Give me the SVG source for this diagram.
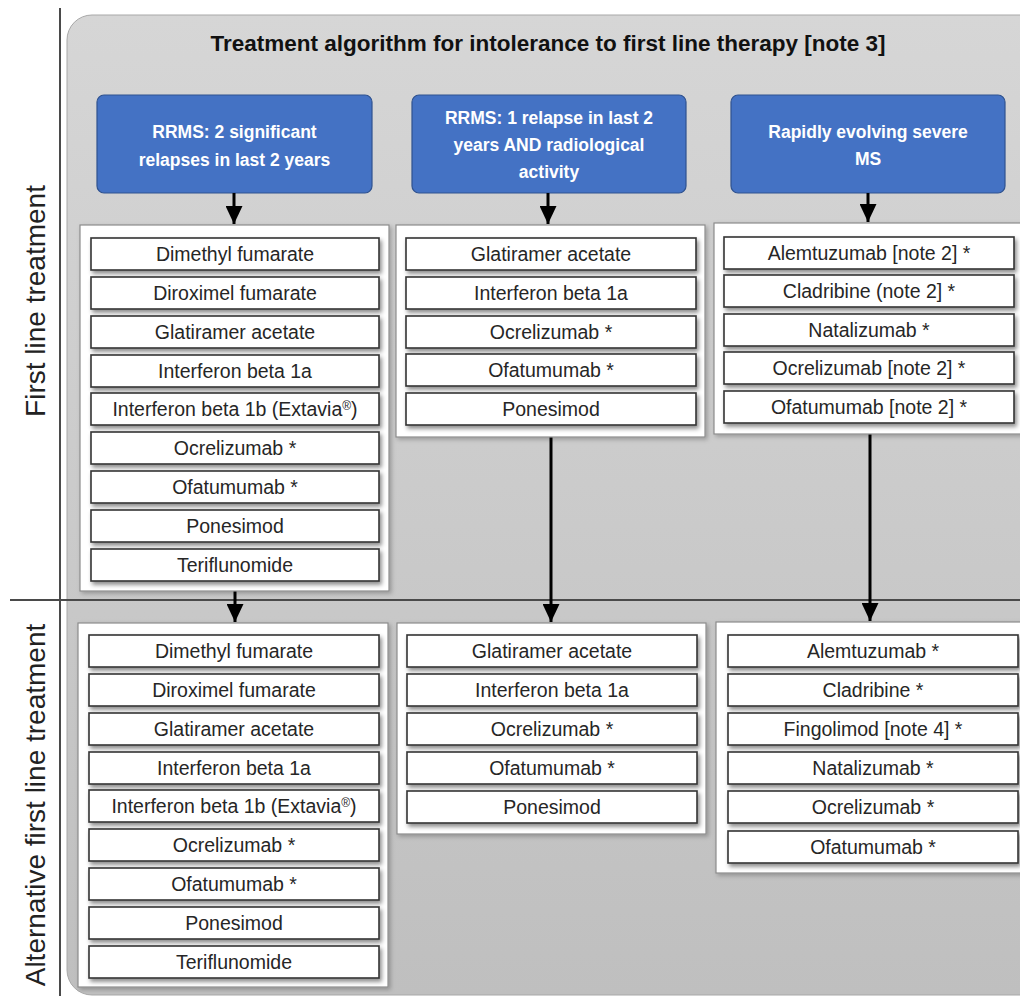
<svg xmlns="http://www.w3.org/2000/svg" width="1020" height="996" viewBox="0 0 1020 996">
<style>
.bg{fill:url(#g);stroke:#a8a8a8;stroke-width:1}
.hdr{fill:#4472c4;stroke:#2f528f;stroke-width:1.2}
.ht{font-family:"Liberation Sans",Arial,sans-serif;font-weight:bold;font-size:17.5px;fill:#ffffff;text-anchor:middle}
.title{font-family:"Liberation Sans",Arial,sans-serif;font-weight:bold;font-size:22.5px;fill:#111;text-anchor:middle}
.cont{fill:#ffffff;stroke:#8c8c8c;stroke-width:1.2}
.item{fill:#ffffff;stroke:#333;stroke-width:1.6}
.it{font-family:"Liberation Sans",Arial,sans-serif;font-size:19.5px;fill:#262626;text-anchor:middle}
.side{font-family:"Liberation Sans",Arial,sans-serif;font-size:28px;fill:#222;text-anchor:middle}
.ax{stroke:#4a4a4a;stroke-width:2;fill:none}
.conn{stroke:#000;stroke-width:3;fill:none;marker-end:url(#ah)}
</style>
<defs>
<linearGradient id="g" x1="0" y1="0" x2="0" y2="1">
<stop offset="0" stop-color="#d6d6d6"/>
<stop offset="1" stop-color="#bfbfbf"/>
</linearGradient>
<filter id="sh" x="-10%" y="-20%" width="130%" height="160%">
<feDropShadow dx="2" dy="3" stdDeviation="2" flood-color="#000" flood-opacity="0.45"/>
</filter>
<filter id="sh2" x="-10%" y="-10%" width="130%" height="130%">
<feDropShadow dx="2" dy="2" stdDeviation="2" flood-color="#000" flood-opacity="0.25"/>
</filter>
<marker id="ah" markerUnits="userSpaceOnUse" markerWidth="18" markerHeight="17" viewBox="0 0 18 17" refX="18" refY="8.5" orient="auto">
<path d="M0,0 L18,8.5 L0,17 z" fill="#000"/>
</marker>
</defs>

<rect class="bg" x="67" y="15" width="985" height="980" rx="25"/>
<line class="ax" x1="60" y1="8" x2="60" y2="996"/>
<line class="ax" x1="10" y1="600" x2="1020" y2="600"/>

<text class="title" x="548" y="51">Treatment algorithm for intolerance to first line therapy [note 3]</text>
<text class="side" transform="translate(45,301) rotate(-90)">First line treatment</text>
<text class="side" transform="translate(45,805) rotate(-90)">Alternative first line treatment</text>

<g id="hdr1"><rect class="hdr" x="97" y="95" width="275" height="98" rx="7"/>
<text class="ht" x="234.5" y="138">RRMS: 2 significant</text>
<text class="ht" x="234.5" y="166">relapses in last 2 years</text></g>
<g id="hdr2"><rect class="hdr" x="412" y="95" width="274" height="98" rx="7"/>
<text class="ht" x="549" y="124">RRMS: 1 relapse in last 2</text>
<text class="ht" x="549" y="151">years AND radiological</text>
<text class="ht" x="549" y="178">activity</text></g>
<g id="hdr3"><rect class="hdr" x="731" y="95" width="274" height="98" rx="7"/>
<text class="ht" x="868" y="138">Rapidly evolving severe</text>
<text class="ht" x="868" y="165">MS</text></g>

<g id="connectors">
<line class="conn" x1="234" y1="193" x2="234" y2="224"/>
<line class="conn" x1="548" y1="193" x2="548" y2="224"/>
<line class="conn" x1="868" y1="193" x2="868" y2="222"/>
<line class="conn" x1="235" y1="591" x2="235" y2="622"/>
<line class="conn" x1="551" y1="437" x2="551" y2="622"/>
<line class="conn" x1="870" y1="434" x2="870" y2="621"/>
</g>

<g id="first-rrms2">
<rect class="cont" filter="url(#sh2)" x="80" y="225" width="309" height="366"/>
<rect class="item" filter="url(#sh)" x="91" y="238" width="288" height="32"/><text class="it" x="235" y="261">Dimethyl fumarate</text>
<rect class="item" filter="url(#sh)" x="91" y="277" width="288" height="32"/><text class="it" x="235" y="300">Diroximel fumarate</text>
<rect class="item" filter="url(#sh)" x="91" y="316" width="288" height="32"/><text class="it" x="235" y="339">Glatiramer acetate</text>
<rect class="item" filter="url(#sh)" x="91" y="355" width="288" height="32"/><text class="it" x="235" y="378">Interferon beta 1a</text>
<rect class="item" filter="url(#sh)" x="91" y="393" width="288" height="32"/><text class="it" x="235" y="416">Interferon beta 1b (Extavia<tspan font-size="12" dy="-6">®</tspan><tspan dy="6">)</tspan></text>
<rect class="item" filter="url(#sh)" x="91" y="432" width="288" height="32"/><text class="it" x="235" y="455">Ocrelizumab *</text>
<rect class="item" filter="url(#sh)" x="91" y="471" width="288" height="32"/><text class="it" x="235" y="494">Ofatumumab *</text>
<rect class="item" filter="url(#sh)" x="91" y="510" width="288" height="32"/><text class="it" x="235" y="533">Ponesimod</text>
<rect class="item" filter="url(#sh)" x="91" y="549" width="288" height="32"/><text class="it" x="235" y="572">Teriflunomide</text>
</g>

<g id="first-rrms1">
<rect class="cont" filter="url(#sh2)" x="396" y="225" width="309" height="212"/>
<rect class="item" filter="url(#sh)" x="406" y="238" width="290" height="32"/><text class="it" x="551" y="261">Glatiramer acetate</text>
<rect class="item" filter="url(#sh)" x="406" y="277" width="290" height="32"/><text class="it" x="551" y="300">Interferon beta 1a</text>
<rect class="item" filter="url(#sh)" x="406" y="316" width="290" height="32"/><text class="it" x="551" y="339">Ocrelizumab *</text>
<rect class="item" filter="url(#sh)" x="406" y="354" width="290" height="32"/><text class="it" x="551" y="377">Ofatumumab *</text>
<rect class="item" filter="url(#sh)" x="406" y="393" width="290" height="32"/><text class="it" x="551" y="416">Ponesimod</text>
</g>

<g id="first-res">
<rect class="cont" filter="url(#sh2)" x="714" y="223" width="312" height="211"/>
<rect class="item" filter="url(#sh)" x="724" y="237" width="290" height="32"/><text class="it" x="869" y="260">Alemtuzumab [note 2] *</text>
<rect class="item" filter="url(#sh)" x="724" y="275" width="290" height="32"/><text class="it" x="869" y="298">Cladribine (note 2] *</text>
<rect class="item" filter="url(#sh)" x="724" y="314" width="290" height="32"/><text class="it" x="869" y="337">Natalizumab *</text>
<rect class="item" filter="url(#sh)" x="724" y="352" width="290" height="32"/><text class="it" x="869" y="375">Ocrelizumab [note 2] *</text>
<rect class="item" filter="url(#sh)" x="724" y="391" width="290" height="32"/><text class="it" x="869" y="414">Ofatumumab [note 2] *</text>
</g>

<g id="alt-rrms2">
<rect class="cont" filter="url(#sh2)" x="78" y="623" width="310" height="364"/>
<rect class="item" filter="url(#sh)" x="89" y="635" width="290" height="32"/><text class="it" x="234" y="658">Dimethyl fumarate</text>
<rect class="item" filter="url(#sh)" x="89" y="674" width="290" height="32"/><text class="it" x="234" y="697">Diroximel fumarate</text>
<rect class="item" filter="url(#sh)" x="89" y="713" width="290" height="32"/><text class="it" x="234" y="736">Glatiramer acetate</text>
<rect class="item" filter="url(#sh)" x="89" y="752" width="290" height="32"/><text class="it" x="234" y="775">Interferon beta 1a</text>
<rect class="item" filter="url(#sh)" x="89" y="790" width="290" height="32"/><text class="it" x="234" y="813">Interferon beta 1b (Extavia<tspan font-size="12" dy="-6">®</tspan><tspan dy="6">)</tspan></text>
<rect class="item" filter="url(#sh)" x="89" y="829" width="290" height="32"/><text class="it" x="234" y="852">Ocrelizumab *</text>
<rect class="item" filter="url(#sh)" x="89" y="868" width="290" height="32"/><text class="it" x="234" y="891">Ofatumumab *</text>
<rect class="item" filter="url(#sh)" x="89" y="907" width="290" height="32"/><text class="it" x="234" y="930">Ponesimod</text>
<rect class="item" filter="url(#sh)" x="89" y="946" width="290" height="32"/><text class="it" x="234" y="969">Teriflunomide</text>
</g>

<g id="alt-rrms1">
<rect class="cont" filter="url(#sh2)" x="397" y="623" width="309" height="211"/>
<rect class="item" filter="url(#sh)" x="407" y="635" width="290" height="32"/><text class="it" x="552" y="658">Glatiramer acetate</text>
<rect class="item" filter="url(#sh)" x="407" y="674" width="290" height="32"/><text class="it" x="552" y="697">Interferon beta 1a</text>
<rect class="item" filter="url(#sh)" x="407" y="713" width="290" height="32"/><text class="it" x="552" y="736">Ocrelizumab *</text>
<rect class="item" filter="url(#sh)" x="407" y="752" width="290" height="32"/><text class="it" x="552" y="775">Ofatumumab *</text>
<rect class="item" filter="url(#sh)" x="407" y="791" width="290" height="32"/><text class="it" x="552" y="814">Ponesimod</text>
</g>

<g id="alt-res">
<rect class="cont" filter="url(#sh2)" x="716" y="622" width="312" height="251"/>
<rect class="item" filter="url(#sh)" x="728" y="635" width="290" height="32"/><text class="it" x="873" y="658">Alemtuzumab *</text>
<rect class="item" filter="url(#sh)" x="728" y="674" width="290" height="32"/><text class="it" x="873" y="697">Cladribine *</text>
<rect class="item" filter="url(#sh)" x="728" y="713" width="290" height="32"/><text class="it" x="873" y="736">Fingolimod [note 4] *</text>
<rect class="item" filter="url(#sh)" x="728" y="752" width="290" height="32"/><text class="it" x="873" y="775">Natalizumab *</text>
<rect class="item" filter="url(#sh)" x="728" y="791" width="290" height="32"/><text class="it" x="873" y="814">Ocrelizumab *</text>
<rect class="item" filter="url(#sh)" x="728" y="831" width="290" height="32"/><text class="it" x="873" y="854">Ofatumumab *</text>
</g>
</svg>
